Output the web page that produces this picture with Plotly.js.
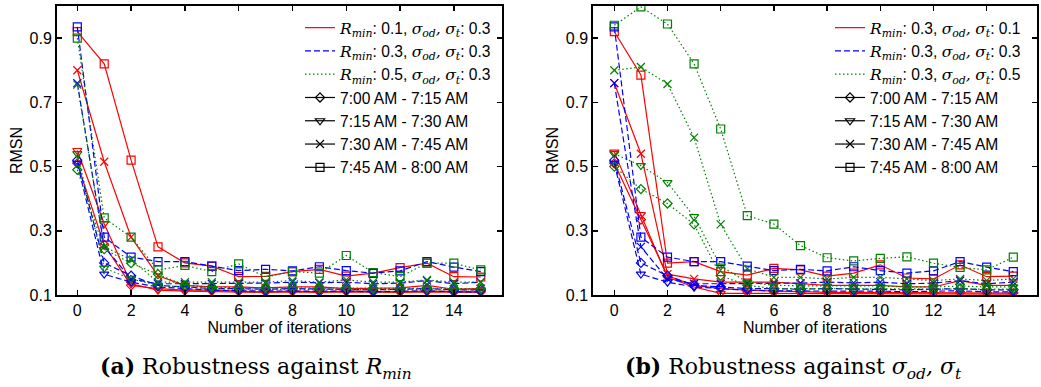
<!DOCTYPE html>
<html>
<head>
<meta charset="utf-8">
<script src="https://cdn.plot.ly/plotly-3.0.1.min.js"></script>
<style>html,body{margin:0;padding:0;background:#fff;}#chart{width:1041px;height:387px;}</style>
</head>
<body>
<div id="chart"></div>
<script>
// ---------- data ----------
const iterations = [0,1,2,3,4,5,6,7,8,9,10,11,12,13,14,15];
const xTickVals = [0,2,4,6,8,10,12,14];
const yTickVals = [0.1,0.3,0.5,0.7,0.9];
const timeSlots = ['7:00 AM - 7:15 AM','7:15 AM - 7:30 AM','7:30 AM - 7:45 AM','7:45 AM - 8:00 AM'];

// shared configuration R_min 0.3, sigma 0.3 (appears in both panels)
const base_0700 = [0.52,0.20,0.16,0.13,0.125,0.12,0.12,0.118,0.12,0.118,0.118,0.116,0.118,0.12,0.116,0.116];
const base_0715 = [0.51,0.165,0.14,0.125,0.12,0.115,0.113,0.112,0.113,0.112,0.112,0.11,0.112,0.113,0.11,0.11];
const base_0730 = [0.76,0.25,0.15,0.135,0.135,0.135,0.135,0.137,0.14,0.138,0.14,0.135,0.137,0.145,0.135,0.14];
const base_0745 = [0.935,0.28,0.218,0.204,0.204,0.19,0.176,0.18,0.175,0.188,0.176,0.168,0.175,0.204,0.187,0.173];

// panel (a): R_min 0.1
const rmin01_0700 = [0.51,0.256,0.13,0.12,0.115,0.115,0.112,0.11,0.112,0.11,0.112,0.11,0.11,0.112,0.11,0.11];
const rmin01_0715 = [0.55,0.322,0.135,0.115,0.112,0.11,0.11,0.108,0.11,0.108,0.11,0.108,0.108,0.11,0.108,0.108];
const rmin01_0730 = [0.80,0.515,0.28,0.16,0.13,0.125,0.125,0.122,0.125,0.125,0.12,0.12,0.122,0.13,0.118,0.12];
const rmin01_0745 = [0.92,0.82,0.52,0.25,0.20,0.19,0.157,0.158,0.173,0.18,0.159,0.168,0.185,0.199,0.157,0.156];
// panel (a): R_min 0.5
const rmin05_0700 = [0.49,0.243,0.199,0.165,0.13,0.125,0.122,0.122,0.122,0.12,0.122,0.12,0.12,0.122,0.12,0.12];
const rmin05_0715 = [0.54,0.184,0.15,0.13,0.125,0.12,0.118,0.118,0.118,0.118,0.118,0.116,0.116,0.118,0.116,0.116];
const rmin05_0730 = [0.755,0.25,0.21,0.14,0.14,0.14,0.14,0.14,0.145,0.14,0.147,0.14,0.14,0.147,0.14,0.14];
const rmin05_0745 = [0.90,0.34,0.28,0.178,0.192,0.173,0.197,0.156,0.173,0.168,0.223,0.17,0.157,0.199,0.199,0.178];

// panel (b): sigma 0.1
const sig01_0700 = [0.51,0.335,0.16,0.13,0.12,0.115,0.112,0.11,0.108,0.108,0.108,0.106,0.106,0.108,0.106,0.106];
const sig01_0715 = [0.545,0.35,0.155,0.125,0.105,0.105,0.105,0.104,0.104,0.104,0.104,0.103,0.103,0.104,0.103,0.103];
const sig01_0730 = [0.76,0.54,0.165,0.15,0.14,0.14,0.14,0.135,0.13,0.13,0.13,0.125,0.125,0.145,0.13,0.13];
const sig01_0745 = [0.92,0.785,0.199,0.204,0.173,0.162,0.183,0.178,0.159,0.168,0.194,0.153,0.15,0.194,0.157,0.159];
// panel (b): sigma 0.5
const sig05_0700 = [0.50,0.43,0.385,0.32,0.16,0.13,0.12,0.12,0.12,0.12,0.12,0.118,0.118,0.12,0.118,0.118];
const sig05_0715 = [0.54,0.503,0.45,0.344,0.19,0.14,0.13,0.128,0.128,0.128,0.128,0.125,0.125,0.128,0.125,0.125];
const sig05_0730 = [0.80,0.81,0.757,0.59,0.32,0.182,0.155,0.155,0.15,0.155,0.155,0.15,0.145,0.15,0.145,0.15];
const sig05_0745 = [0.94,0.997,0.944,0.82,0.617,0.347,0.321,0.254,0.216,0.206,0.214,0.219,0.199,0.186,0.178,0.218];

// legend label pieces
const rminValsA = ['0.1','0.3','0.5'];
const sigValsA = ['0.3','0.3','0.3'];
const rminValsB = ['0.3','0.3','0.3'];
const sigValsB = ['0.1','0.3','0.5'];

const M = s => '<span style="font-family:\'DejaVu Serif\';font-style:italic">' + s + '</span>';
const label = (r, s) => M('R') + '<sub>' + M('min') + '</sub>: ' + r + ', ' + M('σ') + '<sub>' + M('od') + '</sub>' + M(',') + ' ' + M('σ') + '<sub>' + M('t') + '</sub>: ' + s;

const colors = ['#ff0000','#0000ff','#008000'];
const dashes = ['solid','6px,3px','1.5px,2.5px'];
const dataA = [[rmin01_0700,rmin01_0715,rmin01_0730,rmin01_0745],[base_0700,base_0715,base_0730,base_0745],[rmin05_0700,rmin05_0715,rmin05_0730,rmin05_0745]];
const dataB = [[sig01_0700,sig01_0715,sig01_0730,sig01_0745],[base_0700,base_0715,base_0730,base_0745],[sig05_0700,sig05_0715,sig05_0730,sig05_0745]];
const seriesA = dataA.map((d,i) => ({name:label(rminValsA[i], sigValsA[i]), color:colors[i], dash:dashes[i], data:d}));
const seriesB = dataB.map((d,i) => ({name:label(rminValsB[i], sigValsB[i]), color:colors[i], dash:dashes[i], data:d}));

const symbols = ['diamond-open','triangle-down-open','x-thin-open','square-open'];
const symSizes = [7,8,8,8];

// ---------- traces ----------
const traces = [];
function addPanel(series, xa, ya, legendId){
  series.forEach(s => {
    s.data.forEach((vals, k) => {
      traces.push({
        x: iterations, y: vals, xaxis: xa, yaxis: ya, type:'scatter', mode:'lines+markers',
        line:{color:s.color, width:1.2, dash:s.dash},
        marker:{symbol:symbols[k], size:symSizes[k], color:s.color, line:{color:s.color, width:1.2}},
        showlegend:false, hoverinfo:'skip'
      });
    });
  });
  series.forEach(s => {
    traces.push({x:[null], y:[null], xaxis:xa, yaxis:ya, type:'scatter', mode:'lines',
      name:s.name, line:{color:s.color, width:1.2, dash:s.dash}, legend:legendId, showlegend:true});
  });
  timeSlots.forEach((t,k) => {
    traces.push({x:[null], y:[null], xaxis:xa, yaxis:ya, type:'scatter', mode:'lines+markers',
      name:t, line:{color:'#000', width:1.2}, marker:{symbol:symbols[k], size:symSizes[k], color:'#000', line:{color:'#000', width:1.2}},
      legend:legendId, showlegend:true});
  });
}
addPanel(seriesA,'x','y','legend');
addPanel(seriesB,'x2','y2','legend2');

const W = 1041, H = 387;
const sansFont = {family:'Liberation Sans, Arial, sans-serif', size:16, color:'#000'};
function xAxis(d0,d1,r0,r1,anchor){
  return {domain:[d0/W,d1/W], range:[r0,r1], anchor:anchor, tickvals:xTickVals, ticks:'inside', ticklen:5, tickwidth:1.5,
    tickcolor:'#000', showline:true, linecolor:'#000', linewidth:2, mirror:'ticks', showgrid:false, zeroline:false,
    tickfont:sansFont, title:{text:'Number of iterations', font:sansFont, standoff:3}};
}
function yAxis(anchor){
  return {domain:[1-295/H,1-6/H], range:[0.1,1.0], anchor:anchor, tickvals:yTickVals, ticktext:['0.1','0.3','0.5','0.7','0.9'],
    ticks:'inside', ticklen:5, tickwidth:1.5, tickcolor:'#000', showline:true, linecolor:'#000', linewidth:2, mirror:'ticks',
    showgrid:false, zeroline:false, tickfont:sansFont, title:{text:'RMSN', font:sansFont, standoff:3}};
}
const legendBase = {bgcolor:'rgba(0,0,0,0)', borderwidth:0, font:Object.assign({}, sansFont, {size:15.6}), yanchor:'top', xanchor:'left', itemwidth:30, tracegroupgap:0};
const serif = 'DejaVu Serif, serif';
const layout = {
  width:W, height:H, margin:{l:0,r:0,t:0,b:0}, paper_bgcolor:'#fff', plot_bgcolor:'#fff',
  xaxis: xAxis(57,502,-0.755,15.79,'y'),
  yaxis: yAxis('x'),
  xaxis2: xAxis(593.3,1036.7,-0.789,15.88,'y2'),
  yaxis2: yAxis('x2'),
  legend: Object.assign({}, legendBase, {x:300/W, y:1-11/H}),
  legend2: Object.assign({}, legendBase, {x:830/W, y:1-11/H}),
  annotations:[
    {xref:'paper', yref:'paper', x:256/W, y:1-368/H, xanchor:'center', yanchor:'middle', showarrow:false,
     text:'<b>(a)</b> Robustness against <i>R</i><sub><i>min</i></sub>', font:{family:serif, size:22, color:'#000'}},
    {xref:'paper', yref:'paper', x:793/W, y:1-368/H, xanchor:'center', yanchor:'middle', showarrow:false,
     text:'<b>(b)</b> Robustness against <i>σ</i><sub><i>od</i></sub><i>,</i> <i>σ</i><sub><i>t</i></sub>', font:{family:serif, size:22, color:'#000'}}
  ],
  showlegend:true
};
Plotly.newPlot('chart', traces, layout, {staticPlot:true, displayModeBar:false});
</script>
</body>
</html>
